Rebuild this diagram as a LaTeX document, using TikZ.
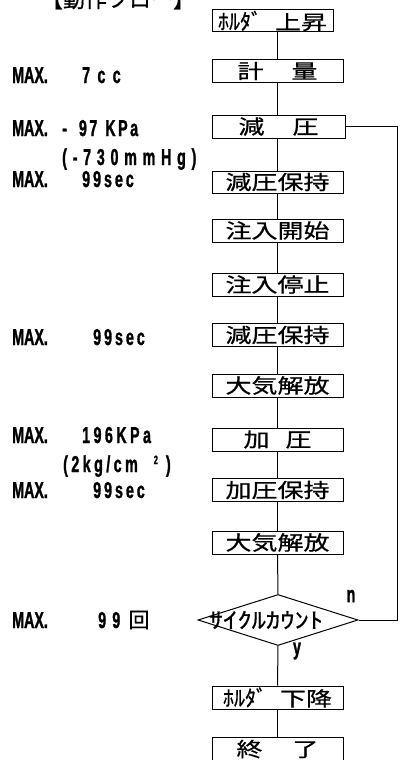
\documentclass[tikz,border=0pt]{standalone}
\usepackage{fontspec}
\usetikzlibrary{shapes.geometric}
\newfontfamily\jpw{Noto Sans CJK JP}[FakeStretch=1.3,FakeBold=0.6]
\newfontfamily\jpn{Noto Sans CJK JP}[FakeStretch=1.0,FakeBold=0.6]
\newfontfamily\lab{Liberation Sans Bold}[FakeStretch=0.62,FakeBold=1.2]
\newcommand{\ls}[1]{\addfontfeature{LetterSpace=#1}}
\begin{document}
\begin{tikzpicture}[x=1pt,y=-1pt,
  flowbox/.style={draw,line width=1pt,fill=white,minimum width=131pt,minimum height=23pt,inner sep=0pt,
    font=\fontsize{20}{20}\jpw},
  lbl/.style={anchor=base west,inner sep=0pt,font=\fontsize{23}{23}\lab},
  conn/.style={line width=1pt}]
\useasboundingbox (0,0) rectangle (400,760);
\clip (0,0) rectangle (400,760);

\node[inner sep=0pt,font=\fontsize{22}{22}\jpn] (title) at (118,-1) {【動作フロー】};

% boxes
\node[flowbox,minimum width=121pt,minimum height=22pt] (b1) at (272.5,21) {{\fontsize{22}{22}\jpn ﾎﾙﾀﾞ}\hspace{13pt}上昇};
\node[flowbox,minimum height=22pt] (b2) at (277.5,71) {計\hspace{28pt}量};
\node[flowbox,minimum width=133pt] (b3) at (278.5,126.5) {減\hspace{28pt}圧};
\node[flowbox,minimum height=22pt] (b4) at (277.5,182) {減圧保持};
\node[flowbox] (b5) at (277.5,230.5) {注入開始};
\node[flowbox] (b6) at (277.5,284.5) {注入停止};
\node[flowbox] (b7) at (277.5,335) {減圧保持};
\node[flowbox] (b8) at (277.5,385.5) {大気解放};
\node[flowbox] (b9) at (277.5,439.5) {加\hspace{16pt}圧\hspace{25pt}};
\node[flowbox] (b10) at (277.5,490) {加圧保持};
\node[flowbox] (b11) at (277.5,542.5) {大気解放};
\node[diamond,draw,line width=1pt,fill=white,minimum width=160pt,minimum height=51pt,inner sep=0pt] (dia) at (278,620) {};
\node[inner sep=0pt,font=\fontsize{22}{22}\jpw] (diat) at (266,620) {ｻｲｸﾙｶｳﾝﾄ};
\node[flowbox] (b13) at (277.5,697.5) {{\fontsize{22}{22}\jpn ﾎﾙﾀﾞ}\hspace{13pt}下降\hspace{10pt}};
\node[flowbox,minimum height=24pt] (b14) at (277.5,749) {終\hspace{30pt}了};

% connectors
\draw[conn] (b1.south -| b2.north) -- (b2.north);
\draw[conn] (b2.south) -- (b3.north -| b2.south);
\draw[conn] (b3.south -| b2.south) -- (b4.north);
\draw[conn] (b4.south) -- (b5.north);
\draw[conn] (b5.south) -- (b6.north);
\draw[conn] (b6.south) -- (b7.north);
\draw[conn] (b7.south) -- (b8.north);
\draw[conn] (b8.south) -- (b9.north);
\draw[conn] (b9.south) -- (b10.north);
\draw[conn] (b10.south) -- (b11.north);
\draw[conn] (b11.south) -- (dia.north);
\draw[conn] (dia.south) -- (b13.north);
\draw[conn] (b13.south) -- (b14.north);
\coordinate (loopx) at (397.5,620);
\draw[conn] (dia.east) -- (loopx) |- (b3.east);

\node[inner sep=0pt,font=\fontsize{23}{23}\lab] (nlab) at (351,596) {n};
\node[inner sep=0pt,font=\fontsize{23}{23}\lab] (ylab) at (297,651) {y};

% left labels
\node[lbl] (m1) at (12,83) {MAX.};
\node[lbl] (v1) at (82,83) {\ls{32}7cc};
\node[lbl] (m2) at (12,136) {MAX.};
\node[lbl] (v2) at (62,136) {\ls{11}-\hspace{12pt}97\hspace{8pt}KPa};
\node[lbl] (v2b) at (62,165) {\ls{25}(-730mmHg)};
\node[lbl] (m3) at (12,187) {MAX.};
\node[lbl] (v3) at (82,187) {\ls{13}99sec};
\node[lbl] (m4) at (12,345) {MAX.};
\node[lbl] (v4) at (93,345) {\ls{13}99sec};
\node[lbl] (m5) at (12,443) {MAX.};
\node[lbl] (v5) at (82,443) {\ls{15}196KPa};
\node[lbl] (v5b) at (63,472) {\ls{15}(2kg/cm\hspace{16pt}\raisebox{8pt}{\fontsize{12}{12}\selectfont 2}\hspace{8pt})};
\node[lbl] (m6) at (12,498) {MAX.};
\node[lbl] (v6) at (93,498) {\ls{13}99sec};
\node[lbl] (m7) at (12,628) {MAX.};
\node[lbl] (v7) at (98,628) {\ls{27}99};
\node[inner sep=0pt,font=\fontsize{21}{21}\jpn] (v7b) at (139,620) {回};
\end{tikzpicture}
\end{document}
